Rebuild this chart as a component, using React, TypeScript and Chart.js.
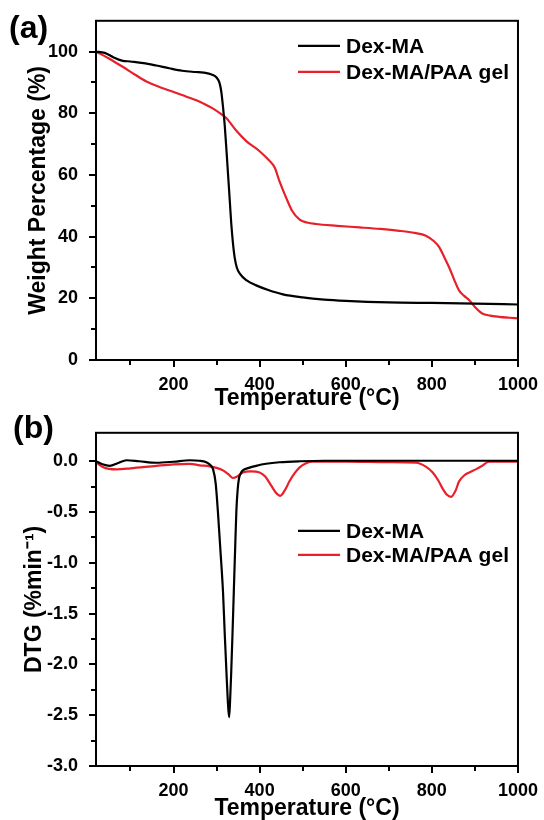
import React, { useEffect, useRef } from "react";
import { Chart, registerables } from "chart.js";

Chart.register(...registerables);

// ---------- data ----------
const seriesLabels = ["Dex-MA", "Dex-MA/PAA gel"];
const seriesColors = ["#000000", "#e8202a"];

// (a) TGA
const tgaTempDexMA = [20, 40, 60, 80, 100, 130, 160, 190, 220, 250, 270, 290, 300, 307, 311, 315, 319, 323, 327, 331, 334, 338, 342, 347, 354, 370, 392, 420, 454, 500, 550, 600, 700, 800, 900, 1000];
const tgaWeightDexMA = [100, 99.6, 98.2, 97.1, 96.8, 96.3, 95.5, 94.6, 93.8, 93.4, 93.2, 92.5, 91.6, 89.8, 87, 82, 76, 68, 59.5, 51, 44.5, 38, 33.3, 30, 28, 25.8, 24.2, 22.7, 21.3, 20.3, 19.6, 19.2, 18.7, 18.5, 18.3, 18];
const tgaTempGel = [20, 50, 83, 110, 137, 170, 199, 230, 253, 275, 292, 310, 323, 345, 369, 400, 420, 435, 446, 462, 475, 493, 510, 530, 580, 632, 680, 724, 760, 786, 805, 817, 830, 840, 852, 863, 875, 887, 900, 917, 935, 956, 980, 1000];
const tgaWeightGel = [100, 97.8, 95, 92.6, 90.3, 88.4, 87, 85.4, 84.2, 82.8, 81.5, 79.8, 78.4, 74.5, 71, 67.7, 65, 62.4, 58, 52.5, 48.5, 45.5, 44.6, 44.1, 43.5, 43, 42.5, 41.9, 41.2, 40.3, 38.5, 36.6, 33, 30.1, 26, 22.6, 20.8, 19.4, 17.2, 15.1, 14.4, 14, 13.7, 13.5];

// (b) DTG
const dtgTempDexMA = [20, 35, 52, 70, 91, 120, 160, 200, 238, 260, 276, 286, 292, 298, 303, 309, 315, 319, 323, 326, 329, 331, 334, 337, 340, 343, 346, 349, 352, 356, 361, 375, 392, 415, 446, 493, 550, 700, 850, 1000];
const dtgDexMA = [0, -0.03, -0.045, -0.02, 0.01, 0.0, -0.015, -0.005, 0.01, 0.005, -0.01, -0.04, -0.08, -0.22, -0.49, -0.88, -1.29, -1.7, -2.08, -2.35, -2.52, -2.4, -2.08, -1.7, -1.29, -0.88, -0.49, -0.28, -0.17, -0.12, -0.09, -0.065, -0.045, -0.025, -0.01, 0.0, 0.005, 0.005, 0.005, 0.005];
const dtgTempGel = [20, 37, 50, 68, 100, 160, 200, 238, 261, 284, 300, 315, 328, 338, 348, 361, 380, 400, 413, 427, 438, 448, 458, 469, 481, 493, 508, 523, 600, 700, 763, 785, 802, 815, 825, 835, 845, 855, 863, 875, 887, 902, 915, 933, 1000];
const dtgGel = [-0.01, -0.06, -0.075, -0.08, -0.07, -0.045, -0.03, -0.025, -0.04, -0.05, -0.065, -0.09, -0.13, -0.165, -0.15, -0.11, -0.1, -0.11, -0.15, -0.24, -0.31, -0.34, -0.29, -0.2, -0.12, -0.06, -0.02, -0.005, -0.005, -0.01, -0.015, -0.05, -0.11, -0.19, -0.27, -0.33, -0.35, -0.29, -0.2, -0.14, -0.11, -0.08, -0.05, -0.005, -0.005];

// ticks
const xMajorTicks = [200, 400, 600, 800, 1000];
const xMinorTicks = [100, 300, 500, 700, 900];
const tgaMajorTicks = [0, 20, 40, 60, 80, 100];
const tgaMinorTicks = [10, 30, 50, 70, 90];
const dtgMajorTicks = [0, -0.5, -1.0, -1.5, -2.0, -2.5, -3.0];
const dtgMinorTicks = [-0.25, -0.75, -1.25, -1.75, -2.25, -2.75];

const FONT = "'Liberation Sans', Arial, Helvetica, sans-serif";

const toPoints = (xs: number[], ys: number[]) => xs.map((x, i) => ({ x, y: ys[i] }));

// frame + custom ticks (major long, minor short)
const frameTicksPlugin = {
  id: "frameTicks",
  afterDraw(chart: any, _args: any, opts: any) {
    const { ctx, chartArea: a, scales } = chart;
    ctx.save();
    ctx.strokeStyle = "#000";
    ctx.lineWidth = 2;
    ctx.strokeRect(a.left, a.top, a.right - a.left, a.bottom - a.top);
    ctx.beginPath();
    const xs = scales.x;
    const ys = scales.y;
    const drawX = (vals: number[], len: number) =>
      vals.forEach((v) => {
        const p = Math.round(xs.getPixelForValue(v));
        ctx.moveTo(p, a.bottom);
        ctx.lineTo(p, a.bottom + len);
      });
    const drawY = (vals: number[], len: number) =>
      vals.forEach((v) => {
        const p = Math.round(ys.getPixelForValue(v));
        ctx.moveTo(a.left, p);
        ctx.lineTo(a.left - len, p);
      });
    drawX(opts.xMajor, 7);
    drawX(opts.xMinor, 5);
    drawY(opts.yMajor, 7);
    drawY(opts.yMinor, 5);
    ctx.stroke();
    ctx.restore();
  },
};

// legend inside the plot area
const innerLegendPlugin = {
  id: "innerLegend",
  afterDraw(chart: any, _args: any, opts: any) {
    const { ctx, chartArea: a } = chart;
    ctx.save();
    ctx.font = `bold ${opts.fontSize}px ${FONT}`;
    ctx.textBaseline = "middle";
    ctx.textAlign = "left";
    chart.data.datasets.forEach((ds: any, i: number) => {
      const y = a.top + opts.dy + i * opts.spacing;
      const x0 = a.left + opts.dx;
      ctx.strokeStyle = ds.borderColor;
      ctx.lineWidth = 2.2;
      ctx.beginPath();
      ctx.moveTo(x0, y);
      ctx.lineTo(x0 + opts.lineLength, y);
      ctx.stroke();
      ctx.fillStyle = "#000";
      ctx.fillText(ds.label, x0 + opts.lineLength + 6, y + 1);
    });
    ctx.restore();
  },
};

function makeConfig(opts: {
  sets: { xs: number[]; ys: number[] }[];
  yMin: number;
  yMax: number;
  yMajor: number[];
  yMinor: number[];
  yTitle: string;
  yTitlePad: number;
  xTitlePad: number;
  xHeight: number;
  padTop: number;
  yFmt: (v: number) => string;
  legendDy: number;
  legendSpacing: number;
}) {
  return {
    type: "line",
    data: {
      datasets: opts.sets.map((s, i) => ({
        label: seriesLabels[i],
        data: toPoints(s.xs, s.ys),
        borderColor: seriesColors[i],
        backgroundColor: seriesColors[i],
        borderWidth: 2.2,
        pointRadius: 0,
        fill: false,
        cubicInterpolationMode: "monotone",
      })),
    },
    options: {
      animation: false,
      responsive: true,
      maintainAspectRatio: false,
      layout: { padding: { left: 0, right: 25, top: opts.padTop, bottom: 0 } },
      plugins: {
        legend: { display: false },
        tooltip: { enabled: false },
        frameTicks: {
          xMajor: xMajorTicks,
          xMinor: xMinorTicks,
          yMajor: opts.yMajor,
          yMinor: opts.yMinor,
        },
        innerLegend: {
          dx: 202,
          dy: opts.legendDy,
          spacing: opts.legendSpacing,
          lineLength: 42,
          fontSize: 21,
        },
      },
      scales: {
        x: {
          type: "linear",
          min: 20,
          max: 1000,
          grid: { display: false },
          border: { display: false },
          afterBuildTicks: (scale: any) => {
            scale.ticks = [...xMajorTicks, ...xMinorTicks].sort((a, b) => a - b).map((v) => ({ value: v }));
          },
          afterFit: (scale: any) => {
            scale.height = opts.xHeight;
          },
          ticks: {
            autoSkip: false,
            maxRotation: 0,
            padding: 6,
            color: "#000",
            font: { family: FONT, size: 18, weight: "bold" },
            callback: (v: number) => (xMajorTicks.includes(v) ? String(v) : ""),
          },
          title: {
            display: true,
            text: "Temperature (°C)",
            color: "#000",
            font: { family: FONT, size: 23, weight: "bold", lineHeight: 1 },
            padding: { top: 0, bottom: opts.xTitlePad },
          },
        },
        y: {
          type: "linear",
          min: opts.yMin,
          max: opts.yMax,
          grid: { display: false },
          border: { display: false },
          afterBuildTicks: (scale: any) => {
            scale.ticks = [...opts.yMajor, ...opts.yMinor].sort((a, b) => a - b).map((v) => ({ value: v }));
          },
          afterFit: (scale: any) => {
            scale.width = 96;
          },
          ticks: {
            autoSkip: false,
            padding: 10,
            color: "#000",
            font: { family: FONT, size: 18, weight: "bold" },
            callback: (v: number) => (opts.yMajor.some((m) => Math.abs(m - v) < 1e-9) ? opts.yFmt(v) : ""),
          },
          title: {
            display: true,
            text: opts.yTitle,
            color: "#000",
            font: { family: FONT, size: 23, weight: "bold", lineHeight: 1 },
            padding: { top: opts.yTitlePad, bottom: 0 },
          },
        },
      },
    },
    plugins: [frameTicksPlugin, innerLegendPlugin],
  };
}

function ChartBox({ config, top, height }: { config: any; top: number; height: number }) {
  const ref = useRef<HTMLCanvasElement | null>(null);
  useEffect(() => {
    if (!ref.current) return;
    const chart = new Chart(ref.current, config);
    return () => chart.destroy();
  }, [config]);
  return (
    <div style={{ position: "absolute", left: 0, top, width: 544, height }}>
      <canvas ref={ref} />
    </div>
  );
}

const configA = makeConfig({
  sets: [
    { xs: tgaTempDexMA, ys: tgaWeightDexMA },
    { xs: tgaTempGel, ys: tgaWeightGel },
  ],
  yMin: 0,
  yMax: 110,
  yMajor: tgaMajorTicks,
  yMinor: tgaMinorTicks,
  yTitle: "Weight Percentage (%)",
  yTitlePad: 27,
  xTitlePad: 2,
  xHeight: 52,
  padTop: 19,
  yFmt: (v) => String(v),
  legendDy: 25,
  legendSpacing: 26,
});

const configB = makeConfig({
  sets: [
    { xs: dtgTempDexMA, ys: dtgDexMA },
    { xs: dtgTempGel, ys: dtgGel },
  ],
  yMin: -3.0,
  yMax: 0.28,
  yMajor: dtgMajorTicks,
  yMinor: dtgMinorTicks,
  yTitle: "DTG (%min\u207B\u00B9)",
  yTitlePad: 23,
  xTitlePad: 0,
  xHeight: 54,
  padTop: 11,
  yFmt: (v) => v.toFixed(1),
  legendDy: 98,
  legendSpacing: 24,
});

export default function App() {
  const labelStyle: React.CSSProperties = {
    position: "absolute",
    fontFamily: FONT,
    fontWeight: "bold",
    fontSize: 32,
    lineHeight: "32px",
    color: "#000",
  };
  return (
    <div style={{ position: "fixed", left: 0, top: 0, width: 544, height: 820, background: "#fff", overflow: "hidden" }}>
      <ChartBox config={configA} top={0} height={412} />
      <ChartBox config={configB} top={412} height={408} />
      <div style={{ ...labelStyle, left: 9, top: 11 }}>(a)</div>
      <div style={{ ...labelStyle, left: 13, top: 411 }}>(b)</div>
    </div>
  );
}
